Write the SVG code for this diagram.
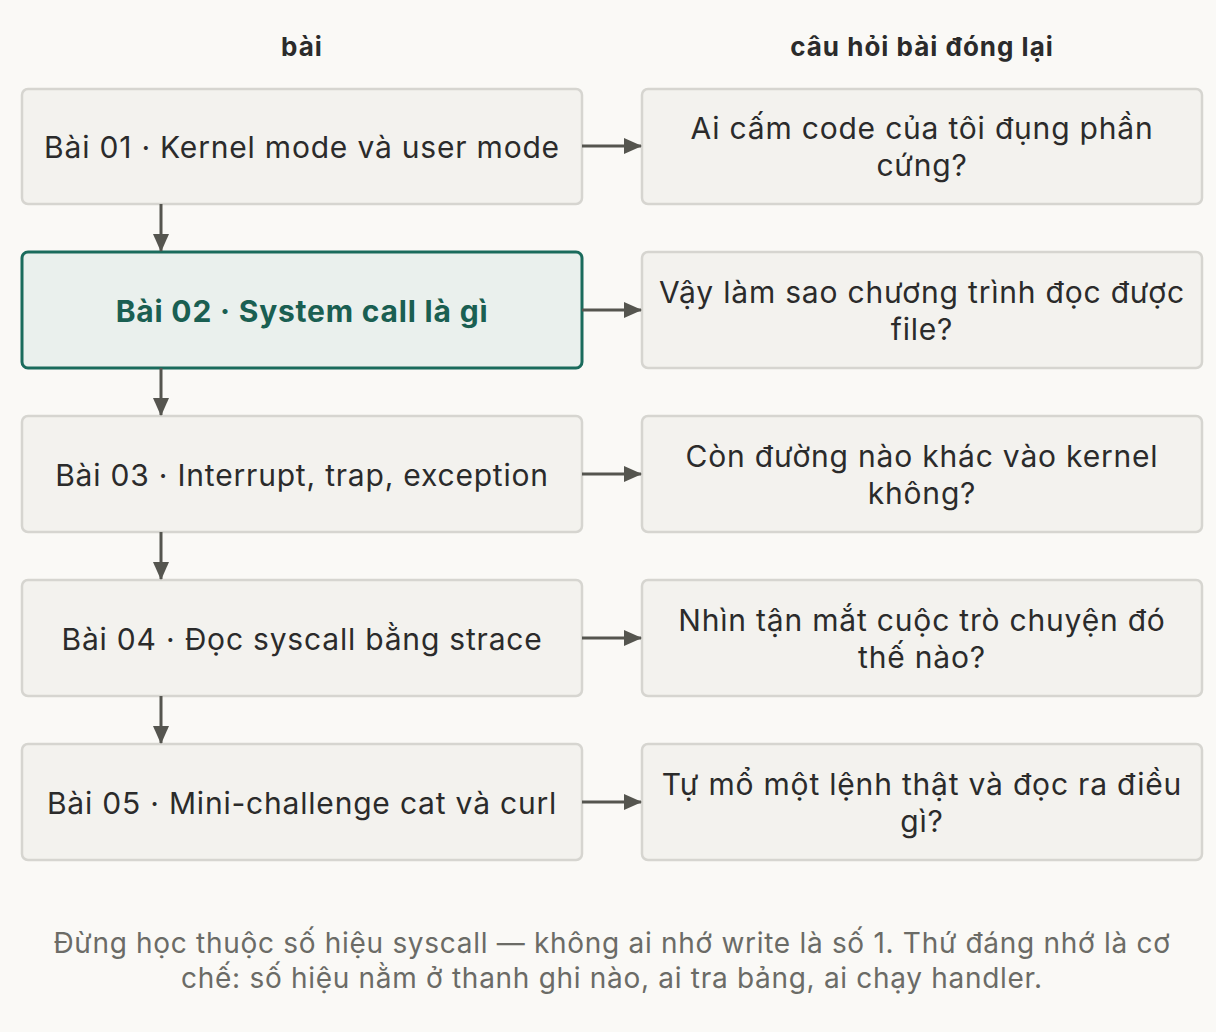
<svg xmlns="http://www.w3.org/2000/svg" width="1216" height="1032" viewBox="0 0 1216 1032">
<defs>
<marker id="ah" markerWidth="18" markerHeight="18" refX="17" refY="9" orient="auto" markerUnits="userSpaceOnUse" viewBox="0 0 18 18"><path d="M0,1 L18,9 L0,17 z" fill="#55554f"/></marker>
<style>
text{font-family:Inter,"Noto Sans",sans-serif;}
.b{fill:#f3f2ee;stroke:#d6d5d0;stroke-width:2.5}
.h{fill:#eaf0ed;stroke:#1a6b5c;stroke-width:3}
.t{font-size:30px;letter-spacing:0.8px;fill:#2b2b2b;text-anchor:middle}
.ht{font-size:30px;letter-spacing:0.8px;fill:#1a5f52;font-weight:bold;text-anchor:middle}
.hd{font-size:26px;letter-spacing:1px;font-weight:bold;fill:#2b2b2b;text-anchor:middle}
.f{font-size:28px;letter-spacing:0.7px;fill:#6b6b66;text-anchor:middle}
.c{stroke:#55554f;stroke-width:3;fill:none;marker-end:url(#ah)}
</style>
</defs>
<rect width="1216" height="1032" fill="#faf9f6"/>
<text class="hd" x="302" y="56">bài</text>
<text class="hd" x="922" y="56">câu hỏi bài đóng lại</text>
<g id="l1"><rect class="b" x="22" y="89" width="560" height="115" rx="6"/><text class="t" x="302" y="158">Bài 01 · Kernel mode và user mode</text></g>
<g id="l2"><rect class="h" x="22" y="252" width="560" height="116" rx="6"/><text class="ht" x="302" y="322">Bài 02 · System call là gì</text></g>
<g id="l3"><rect class="b" x="22" y="416" width="560" height="116" rx="6"/><text class="t" x="302" y="486">Bài 03 · Interrupt, trap, exception</text></g>
<g id="l4"><rect class="b" x="22" y="580" width="560" height="116" rx="6"/><text class="t" x="302" y="650">Bài 04 · Đọc syscall bằng strace</text></g>
<g id="l5"><rect class="b" x="22" y="744" width="560" height="116" rx="6"/><text class="t" x="302" y="814">Bài 05 · Mini-challenge cat và curl</text></g>
<g id="r1"><rect class="b" x="642" y="89" width="560" height="115" rx="6"/><text class="t" x="922" y="139">Ai cấm code của tôi đụng phần</text><text class="t" x="922" y="176">cứng?</text></g>
<g id="r2"><rect class="b" x="642" y="252" width="560" height="116" rx="6"/><text class="t" x="922" y="303">Vậy làm sao chương trình đọc được</text><text class="t" x="922" y="340">file?</text></g>
<g id="r3"><rect class="b" x="642" y="416" width="560" height="116" rx="6"/><text class="t" x="922" y="467">Còn đường nào khác vào kernel</text><text class="t" x="922" y="504">không?</text></g>
<g id="r4"><rect class="b" x="642" y="580" width="560" height="116" rx="6"/><text class="t" x="922" y="631">Nhìn tận mắt cuộc trò chuyện đó</text><text class="t" x="922" y="668">thế nào?</text></g>
<g id="r5"><rect class="b" x="642" y="744" width="560" height="116" rx="6"/><text class="t" x="922" y="795">Tự mổ một lệnh thật và đọc ra điều</text><text class="t" x="922" y="832">gì?</text></g>
<g id="connectors">
<path class="c" d="M582,146 H641"/><path class="c" d="M582,310 H641"/><path class="c" d="M582,474 H641"/><path class="c" d="M582,638 H641"/><path class="c" d="M582,802 H641"/>
<path class="c" d="M161,204 V251"/><path class="c" d="M161,368 V415"/><path class="c" d="M161,532 V579"/><path class="c" d="M161,696 V743"/>
</g>
<text class="f" x="612" y="953">Đừng học thuộc số hiệu syscall — không ai nhớ write là số 1. Thứ đáng nhớ là cơ</text>
<text class="f" x="612" y="988">chế: số hiệu nằm ở thanh ghi nào, ai tra bảng, ai chạy handler.</text>
</svg>
